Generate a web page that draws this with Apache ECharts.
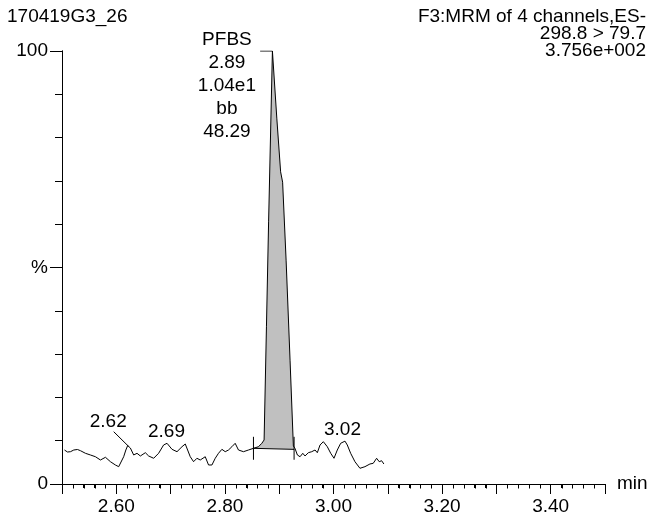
<!DOCTYPE html>
<html><head><meta charset="utf-8">
<script src="https://cdn.jsdelivr.net/npm/echarts@6/dist/echarts.min.js"></script>
<style>html,body{margin:0;padding:0;background:#fff}#c{width:651px;height:520px}</style>
</head><body><div id="c"></div>
<script>
// ---- data ----
const times = [2.5046,2.5101,2.5156,2.5217,2.5285,2.5340,2.5432,2.5524,2.5616,2.5708,
  2.5800,2.5892,2.5983,2.6044,2.6075,2.6136,2.6176,2.6210,2.6259,2.6320,
  2.6382,2.6443,2.6535,2.6596,2.6688,2.6779,2.6871,2.6934,2.7026,2.7118,
  2.7210,2.7270,2.7362,2.7423,2.7485,2.7546,2.7638,2.7699,2.7761,2.7822,
  2.7882,2.7945,2.8006,2.8066,2.8129,2.8189,2.8250,2.8342,2.8434,2.8526,
  2.8618,2.8680,2.8722,2.8765,2.8805,2.8875,2.8956,2.9026,2.9063,2.9127,
  2.9200,2.9261,2.9290,2.9335,2.9384,2.9434,2.9476,2.9537,2.9599,2.9660,
  2.9702,2.9752,2.9813,2.9886,2.9949,3.0009,3.0070,3.0132,3.0211,3.0254,
  3.0316,3.0395,3.0487,3.0579,3.0671,3.0732,3.0794,3.0842,3.0886,3.0928];
const intensities = [7.85,7.39,7.46,7.85,7.97,7.69,7.09,6.70,6.30,5.54,
  6.17,5.15,4.39,4.00,4.39,6.30,7.85,8.89,8.31,6.70,
  7.09,6.47,7.23,6.47,5.94,7.09,9.01,9.40,8.01,7.46,
  8.61,9.24,6.30,5.15,5.94,5.54,6.30,4.39,4.39,5.94,
  7.09,8.01,7.46,7.85,8.61,9.40,7.85,7.46,7.85,8.24,
  8.61,9.40,10.16,36.3,60.7,100,84.5,72.1,69.7,51.7,
  28.6,8.78,8.24,6.70,6.30,7.09,6.47,7.23,7.46,7.85,
  7.23,9.01,9.77,8.61,7.09,5.94,7.85,9.40,9.90,9.01,
  7.09,5.15,3.63,4.00,4.62,4.78,5.94,5.15,5.38,4.62];

// integration of the PFBS peak
const integStart = [2.8526, 8.24];
const integEnd = [2.9274, 8.0];
const markerRange = [5.6, 10.9];

// peak retention-time labels
const labelTexts = ['2.62', '2.69', '3.02'];
const labelTimes = [2.6210, 2.6934, 3.0211];
const labelValues = [8.89, 9.40, 9.90];
const labelOffsets = [[-19, -23], [0, -11], [-2, -11]];
const leader262 = [[2.5952, 12.08], [2.6225, 8.7]];

// main peak annotation
const peakInfo = ['PFBS', '2.89', '1.04e1', 'bb', '48.29'];
const peakApex = [2.8875, 100];
const peakLeader = [[2.8649, 100], [2.8875, 100]];

const xTickLabels = ['2.60', '2.80', '3.00', '3.20', '3.40'];
const yTickLabels = {0: '0', 50: '%', 100: '100'};
const titleLeft = '170419G3_26';
const titleRight = ['F3:MRM of 4 channels,ES-', '298.8 > 79.7', '3.756e+002'];

// ---- chart ----
const FONT = "'Liberation Sans', Arial, Helvetica, sans-serif";
const FS = 19;
const X_MIN = 2.5, X_MAX = 3.5, X_MINOR = 0.02;
const trace = times.map((t, i) => [t, intensities[i]]);
const fillPts = [integStart].concat(trace.filter(p => p[0] > integStart[0] && p[0] < integEnd[0])).concat([integEnd]);
const minorTickValues = [];
for (let k = 1; k < Math.round((X_MAX - X_MIN) / X_MINOR); k++) {
  if (k % 5 !== 0) minorTickValues.push(+(X_MIN + k * X_MINOR).toFixed(2));
}

const GRID = {left: 62, right: 46, top: 51, bottom: 36};
const chart = echarts.init(document.getElementById('c'), null, {renderer: 'canvas'});
const txt = {fontFamily: FONT, fontSize: FS, color: '#000', fontWeight: 'normal'};
const lbl = Object.assign({show: true, position: [0, 0], align: 'center', verticalAlign: 'middle',
  textBorderWidth: 0, textShadowBlur: 0, opacity: 1}, txt);
const titleGraphic = {
  id: 'titleRight', type: 'text', right: 5, top: 7, silent: true,
  style: {text: titleRight.join('\n'), font: FS + 'px ' + FONT, fill: '#000', textAlign: 'right', lineHeight: 17}
};
chart.setOption({
  animation: false,
  backgroundColor: '#fff',
  title: {text: titleLeft, left: 7, top: 7, padding: 0, textStyle: txt},
  graphic: {elements: [titleGraphic]},
  grid: [Object.assign({}, GRID), Object.assign({}, GRID)],
  xAxis: [{
    gridIndex: 0, type: 'value', min: X_MIN, max: X_MAX, interval: 0.1,
    name: 'min', nameLocation: 'end', nameGap: 12, nameTextStyle: txt,
    axisLine: {onZero: false, lineStyle: {color: '#000', width: 1}},
    axisTick: {show: true, length: 10, lineStyle: {color: '#000', width: 1}},
    splitLine: {show: false},
    axisLabel: Object.assign({margin: 13, hideOverlap: false, formatter: v => {
      const s = v.toFixed(2); return xTickLabels.indexOf(s) >= 0 ? s : '';
    }}, txt)
  }, {
    // second grid, same rectangle: carries the 0.02-min minor ticks
    gridIndex: 1, type: 'value', min: X_MIN, max: X_MAX, interval: X_MINOR, position: 'bottom',
    axisLine: {show: true, onZero: false, lineStyle: {color: '#000', width: 1}},
    axisTick: {show: true, length: 4, lineStyle: {color: '#000', width: 1}},
    axisLabel: {show: false}, splitLine: {show: false}
  }],
  yAxis: [
    {
      gridIndex: 0, type: 'value', min: 0, max: 100, interval: 10,
      axisLine: {show: true, lineStyle: {color: '#000', width: 1}},
      axisTick: {show: true, length: 7, lineStyle: {color: '#000', width: 1}},
      splitLine: {show: false},
      axisLabel: Object.assign({margin: 14, formatter: v => yTickLabels[Math.round(v)] || ''}, txt)
    },
    {
      gridIndex: 0, type: 'value', min: 0, max: 100, interval: 50, position: 'left', offset: 0,
      axisLine: {show: true, lineStyle: {color: '#000', width: 1}},
      axisTick: {show: true, length: 12, lineStyle: {color: '#000', width: 1}},
      axisLabel: {show: false}, splitLine: {show: false}
    },
    {
      gridIndex: 1, type: 'value', min: 0, max: 100, interval: 50,
      axisLine: {show: false}, axisTick: {show: false}, axisLabel: {show: false}, splitLine: {show: false}
    }
  ],
  series: [
    {
      type: 'custom', coordinateSystem: 'cartesian2d', silent: true, z: 1,
      data: [integStart],
      renderItem: (params, api) => ({
        type: 'polygon',
        shape: {points: fillPts.map(p => api.coord(p))},
        style: {fill: '#c0c0c0', stroke: null}
      })
    },
    {
      type: 'line', data: trace, showSymbol: false, symbol: 'none', z: 3,
      lineStyle: {color: '#000', width: 1}
    },
    {
      type: 'custom', coordinateSystem: 'cartesian2d', silent: true, z: 4,
      data: [integStart],
      renderItem: (params, api) => {
        const a = api.coord(integStart), b = api.coord(integEnd);
        const s1 = api.coord([integStart[0], markerRange[0]]), s2 = api.coord([integStart[0], markerRange[1]]);
        const e1 = api.coord([integEnd[0], markerRange[0]]), e2 = api.coord([integEnd[0], markerRange[1]]);
        const st = {stroke: '#000', lineWidth: 1};
        return {type: 'group', children: [
          {type: 'line', shape: {x1: a[0], y1: a[1], x2: b[0], y2: b[1]}, style: st},
          {type: 'line', shape: {x1: s1[0], y1: s1[1], x2: s2[0], y2: s2[1]}, style: st},
          {type: 'line', shape: {x1: e1[0], y1: e1[1], x2: e2[0], y2: e2[1]}, style: st}
        ]};
      }
    },
    {type: 'line', data: leader262, showSymbol: false, symbol: 'none', z: 4, lineStyle: {color: '#000', width: 1}},
    {type: 'line', data: peakLeader, xAxisIndex: 1, yAxisIndex: 2, showSymbol: false, symbol: 'none', z: 4,
     lineStyle: {color: '#000', width: 1}},
    {
      type: 'scatter', symbolSize: 1, z: 5, itemStyle: {color: 'rgba(0,0,0,0)', opacity: 1},
      data: labelTimes.map((t, i) => ({value: [t, labelValues[i]], label: {offset: labelOffsets[i]}})),
      label: Object.assign({}, lbl, {formatter: p => labelTexts[p.dataIndex]})
    },
    {
      type: 'scatter', symbolSize: 1, z: 5, itemStyle: {color: 'rgba(0,0,0,0)', opacity: 1},
      data: [{value: peakApex}],
      label: Object.assign({}, lbl, {offset: [-45, 35], lineHeight: 23, formatter: () => peakInfo.join('\n')})
    }
  ]
});

// fallback: minor ticks placed through the axis scale as graphic lines
const y0 = Math.round(chart.convertToPixel({yAxisIndex: 0}, 0)) + 0.5;
const tickEls = minorTickValues.map((v, i) => {
  const x = Math.round(chart.convertToPixel({xAxisIndex: 0}, v)) + 0.5;
  return {id: 'mt' + i, type: 'line', silent: true, z: 100,
    shape: {x1: x, y1: y0, x2: x, y2: y0 + 4}, style: {stroke: '#000', lineWidth: 1}};
});
chart.setOption({graphic: {elements: [titleGraphic].concat(tickEls)}});
</script>
</body></html>
